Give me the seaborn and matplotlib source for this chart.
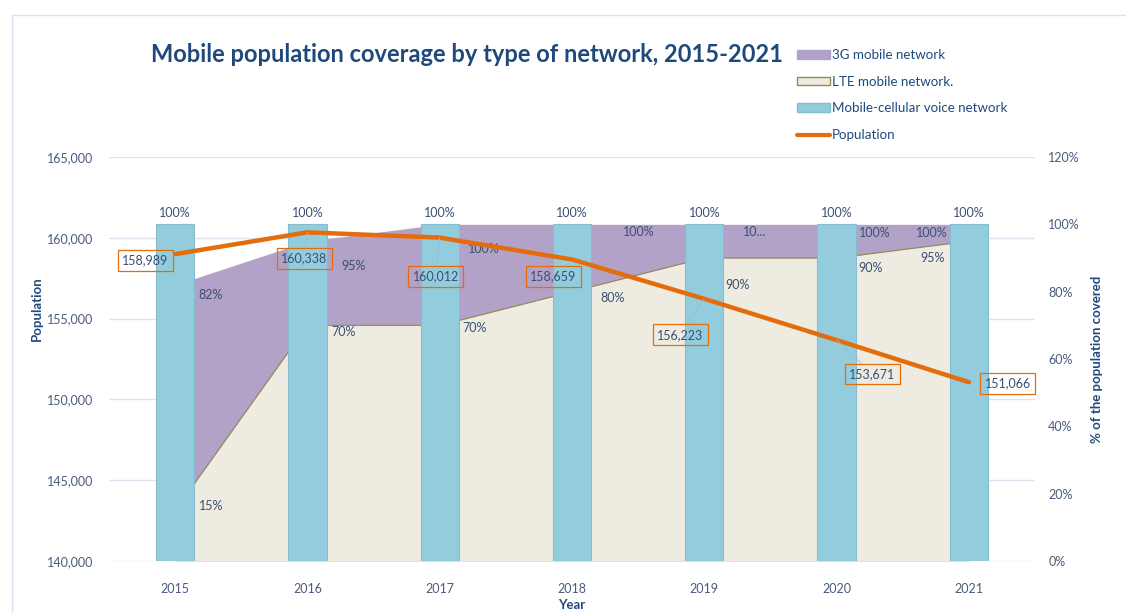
import seaborn as sns
import matplotlib
matplotlib.use("Agg")
import matplotlib.pyplot as plt
import numpy as np
from matplotlib.patches import Patch
from matplotlib.lines import Line2D
from matplotlib.ticker import FuncFormatter

sns.set_theme(style="white")
plt.rcParams['font.family'] = ['Lato', 'DejaVu Sans']

# data
years = [2015, 2016, 2017, 2018, 2019, 2020, 2021]
population = [158989, 160338, 160012, 158659, 156223, 153671, 151066]
cov_3g = [0.82, 0.95, 1.00, 1.00, 1.00, 1.00, 1.00]
cov_lte = [0.15, 0.70, 0.70, 0.80, 0.90, 0.90, 0.95]
cov_voice = [1.00, 1.00, 1.00, 1.00, 1.00, 1.00, 1.00]
labels_3g = ["82%", "95%", "100%", "100%", "10...", "100%", "100%"]

c_bar = "#93CDDD"
c_3g = "#B3A2C7"
c_lte = "#EEECE1"
c_line = "#E46C0A"
c_title = "#1F497D"
c_tick = "#4A5B7C"
c_lab = "#3B4F70"
c_grid = "#DCE4F0"

W, H = 1126, 613
fig = plt.figure(figsize=(W / 100, H / 100), dpi=100)
fig.patch.set_facecolor("white")

def px(x, y):
    return x / W, 1 - y / H

left, right, top, bottom = 109, 1035, 157, 561
ax = fig.add_axes([left / W, 1 - bottom / H, (right - left) / W, (bottom - top) / H])
axp = ax.twinx()
axl = ax.twinx()
pos = np.arange(len(years))

# population axis (grid + left ticks)
ax.set_ylim(140000, 165000)
ax.set_yticks(np.arange(140000, 165001, 5000))
ax.yaxis.set_major_formatter(FuncFormatter(lambda v, p: f"{int(v):,}"))
ax.grid(axis="y", color=c_grid, lw=1)
ax.grid(axis="x", visible=False)
ax.tick_params(axis="y", length=0, pad=11.5, labelsize=9, labelcolor=c_tick)
ax.tick_params(axis="x", length=0, pad=16, labelsize=9, labelcolor=c_tick)
ax.set_ylabel("Population", fontsize=9.5, fontweight="bold", color=c_title)
ax.yaxis.set_label_coords((43 - left) / (right - left), (bottom - 309) / (bottom - top))
ax.set_xlabel("Year", fontsize=9.5, fontweight="bold", color=c_title, labelpad=3)
for s in ax.spines.values():
    s.set_visible(False)

# coverage axis: areas + bars
axp.fill_between(pos, cov_3g, color=c_3g, lw=0, zorder=1)
axp.fill_between(pos, cov_lte, color=c_lte, lw=0, zorder=2)
axp.plot(pos, cov_lte, color="#948A54", lw=0.8, zorder=2.5)
sns.barplot(x=pos, y=cov_voice, ax=axp, color=c_bar, width=0.29, saturation=1,
            edgecolor="#86BCD0", linewidth=0.8, zorder=3)
axp.set_ylim(0, 1.2)
axp.set_yticks(np.arange(0, 1.21, 0.2))
axp.yaxis.set_major_formatter(FuncFormatter(lambda v, p: f"{v * 100:.0f}%"))
axp.tick_params(axis="y", length=0, pad=9.5, labelsize=9, labelcolor=c_tick)
axp.set_ylabel("% of the population covered", fontsize=9.5, fontweight="bold",
               color=c_title, labelpad=8)
for s in axp.spines.values():
    s.set_visible(False)

# bar labels
for i, v in enumerate(cov_voice):
    axp.annotate(f"{v * 100:.0f}%", (pos[i], v), xytext=(0, 11), textcoords="offset pixels",
                 ha="center", va="center", fontsize=9, color=c_lab, zorder=6)

# area labels (offsets in pixels, y down positive)
off_3g = [(23, 10, "left"), (34, 25, "left"), (28, 25, "left"), (51, 8, "left"),
          (39, 8, "left"), (22, 9, "left"), (-21, 9, "right")]
off_lte = [(24, -4, "left"), (24, 7, "left"), (23, 3, "left"), (28, 6, "left"),
           (21, 27, "left"), (22, 10, "left"), (-24, 17, "right")]
for i in range(len(years)):
    dx, dy, ha = off_3g[i]
    axp.annotate(labels_3g[i], (pos[i], cov_3g[i]), xytext=(dx, -dy), textcoords="offset pixels",
                 ha=ha, va="center", fontsize=9, color=c_lab, zorder=6)
    dx, dy, ha = off_lte[i]
    axp.annotate(f"{cov_lte[i] * 100:.0f}%", (pos[i], cov_lte[i]), xytext=(dx, -dy),
                 textcoords="offset pixels", ha=ha, va="center", fontsize=9, color=c_lab, zorder=6)

# population line on top
sns.lineplot(x=pos, y=population, ax=axl, color=c_line, lw=3.2, zorder=5)
axl.set_ylim(140000, 165000)
axl.set_yticks([])
axl.set_ylabel("")
for s in axl.spines.values():
    s.set_visible(False)

off_pop = [(-30, 6, False), (-3, 26, True), (-4, 39, True), (-19, 17, False),
           (-24, 36, True), (36, 34, True), (39, 1, False)]
for i, v in enumerate(population):
    dx, dy, lead = off_pop[i]
    arrow = dict(arrowstyle="-", color="#9DB9DD", lw=0.6, shrinkA=0, shrinkB=0) if lead else None
    axl.annotate(f"{v:,}", (pos[i], v), xytext=(dx, -dy), textcoords="offset pixels",
                 ha="center", va="center", fontsize=9, color=c_lab, zorder=7,
                 bbox=dict(boxstyle="square,pad=0.35", fc="none", ec=c_line, lw=0.9),
                 arrowprops=arrow)

for a in (ax, axp, axl):
    a.set_xlim(-0.5, 6.5)
ax.set_xticks(pos)
ax.set_xticklabels([str(y) for y in years])
axp.tick_params(axis="x", bottom=False, labelbottom=False)
axl.tick_params(axis="x", bottom=False, labelbottom=False)

# title
fig.text(*px(467, 55), "Mobile population coverage by type of network, 2015-2021",
         ha="center", va="center", fontsize=17, fontweight="bold", color=c_title)

# legend
handles = [Patch(fc=c_3g, ec=c_3g), Patch(fc=c_lte, ec="#948A54"),
           Patch(fc=c_bar, ec="#86BCD0"), Line2D([], [], color=c_line, lw=3)]
names = ["3G mobile network", "LTE mobile network.", "Mobile-cellular voice network", "Population"]
fig.legend(handles, names, loc="upper left", bbox_to_anchor=px(797, 49), frameon=False,
           fontsize=9.6, labelcolor=c_title, handlelength=2.45, handleheight=0.6,
           handletextpad=0.15, labelspacing=1.1, borderpad=0, borderaxespad=0)

# chart border
fig.add_artist(Line2D([12 / W, 12 / W], [0, 1 - 15 / H], color="#D9E1EE", lw=1))
fig.add_artist(Line2D([12 / W, 1], [1 - 15 / H, 1 - 15 / H], color="#D9E1EE", lw=1))

fig.savefig("out.png", dpi=100)
